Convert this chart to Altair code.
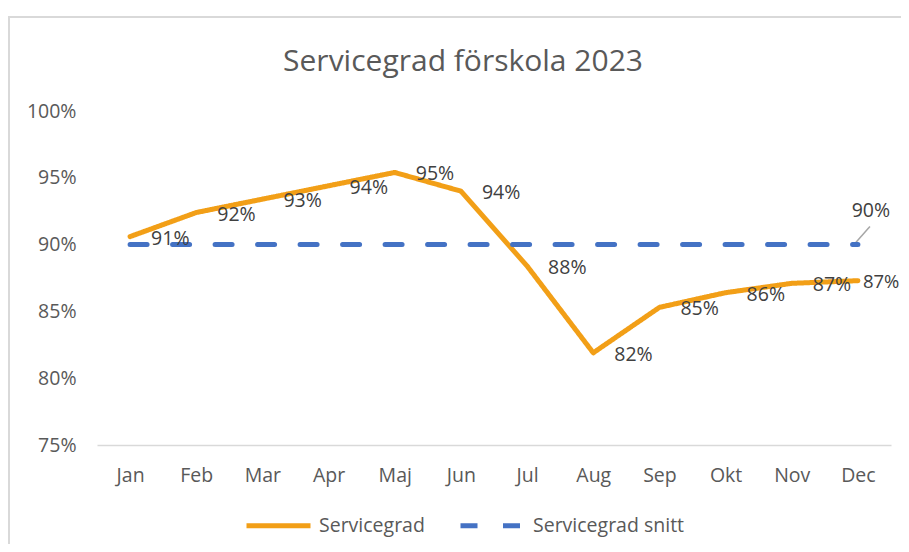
import altair as alt
import pandas as pd

months = ["Jan", "Feb", "Mar", "Apr", "Maj", "Jun", "Jul", "Aug", "Sep", "Okt", "Nov", "Dec"]
servicegrad = [0.906, 0.924, 0.934, 0.944, 0.954, 0.940, 0.884, 0.819, 0.853, 0.864, 0.871, 0.873]
snitt = [0.90, 0.90, 0.90, 0.90, 0.90, 0.90, 0.90, 0.90, 0.90, 0.90, 0.90, 0.90]
series_names = ["Servicegrad", "Servicegrad snitt"]
y_ticks = [0.75, 0.80, 0.85, 0.90, 0.95, 1.00]

rows = []
for m, v in zip(months, servicegrad):
    rows.append({"month": m, "value": v, "series": series_names[0]})
for m, v in zip(months, snitt):
    rows.append({"month": m, "value": v, "series": series_names[1]})
df = pd.DataFrame(rows)

FONT = "Open Sans"
GRAY = "#595959"

x_enc = alt.X("month:O", sort=months, scale=alt.Scale(type="point", padding=0.5),
              axis=alt.Axis(title=None, labelAngle=0, labelAlign="center", ticks=False,
                            domainColor="#d9d9d9", domainWidth=1.5, labelPadding=30, grid=False))
y_enc = alt.Y("value:Q", scale=alt.Scale(domain=[0.75, 1.0], nice=False, zero=False),
              axis=alt.Axis(title=None, values=y_ticks, format=".0%", domain=False, ticks=False,
                            grid=False, labelPadding=21))

legend_def = alt.Legend(orient="none", legendX=147, legendY=380, direction="horizontal",
                        symbolType="stroke", symbolSize=4096, symbolStrokeWidth=5,
                        labelFont=FONT, labelFontSize=19.5, labelColor=GRAY,
                        labelOffset=6, columnPadding=25, padding=0)

base = alt.Chart(df)

lines = base.mark_line(strokeWidth=5, strokeCap="round", strokeJoin="round").encode(
    x=x_enc,
    y=y_enc,
    color=alt.Color("series:N", title=None,
                    scale=alt.Scale(domain=series_names, range=["#F29F17", "#4472C4"]),
                    legend=legend_def),
    strokeDash=alt.StrokeDash("series:N", title=None,
                              scale=alt.Scale(domain=series_names, range=[[1, 0], [17, 25.5]]),
                              legend=legend_def),
)

labels_main = base.transform_filter(
    (alt.datum.series == series_names[0]) & (alt.datum.month != "Dec")
).mark_text(align="left", baseline="middle", dx=21, dy=2, font=FONT, fontSize=19.5, color="#404040").encode(
    x=alt.X("month:O", sort=months), y="value:Q", text=alt.Text("value:Q", format=".0%")
)

labels_last = base.transform_filter(
    (alt.datum.series == series_names[0]) & (alt.datum.month == "Dec")
).mark_text(align="left", baseline="middle", dx=5, dy=1, font=FONT, fontSize=18.5, color="#404040").encode(
    x=alt.X("month:O", sort=months), y="value:Q", text=alt.Text("value:Q", format=".0%")
)

label_avg = base.transform_filter(
    (alt.datum.series == series_names[1]) & (alt.datum.month == "Dec")
).mark_text(align="center", baseline="middle", dx=13, dy=-34, font=FONT, fontSize=19.5, color="#404040").encode(
    x=alt.X("month:O", sort=months), y="value:Q", text=alt.Text("value:Q", format=".0%")
)

leader = base.transform_filter(
    (alt.datum.series == series_names[1]) & (alt.datum.month == "Dec")
).mark_rule(color="#a6a6a6", strokeWidth=1.5, xOffset=-3, yOffset=-1, x2Offset=12, y2Offset=-18).encode(
    x=alt.X("month:O", sort=months), y="value:Q", x2=alt.X2("month:O"), y2=alt.Y2("value:Q")
)

frame = alt.Chart(alt.Data(values=[{"f": 1}])).mark_rect(
    fillOpacity=0, stroke="#d9d9d9", strokeWidth=2
).encode(x=alt.value(-88), y=alt.value(-94), x2=alt.value(1000), y2=alt.value(700))

chart = alt.layer(frame, leader, lines, labels_main, labels_last, label_avg).properties(
    width=794,
    height=334,
    autosize=alt.AutoSizeParams(type="none"),
    padding={"left": 89, "top": 103, "right": 10, "bottom": 99},
    title=alt.TitleParams("Servicegrad förskola 2023", font=FONT, fontSize=30, fontWeight="normal",
                          color=GRAY, anchor="middle", dx=-31, offset=-61),
).configure_view(strokeWidth=0).configure_axis(
    labelFont=FONT, labelFontSize=19.5, labelColor=GRAY
)

chart.save("out.html", embed_options={"renderer": "svg", "actions": False})
